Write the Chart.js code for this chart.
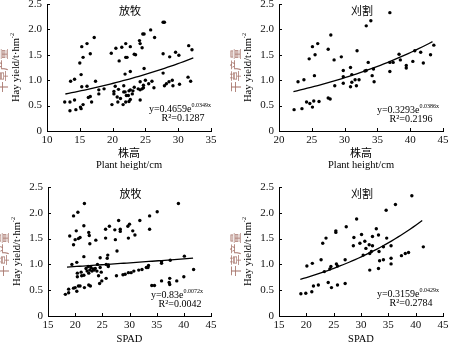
<!DOCTYPE html>
<html>
<head>
<meta charset="utf-8">
<script src="https://cdn.jsdelivr.net/npm/chart.js@4.4.0/dist/chart.umd.min.js"></script>
<style>
  body { margin: 0; background: #fff; }
  #wrap { position: relative; width: 450px; height: 343px; overflow: hidden; }
  .panel { position: absolute; }
  canvas { display: block; }
</style>
</head>
<body>
<div id="wrap">
  <div class="panel" style="left:0;top:0"><canvas id="c1" width="225" height="171"></canvas></div>
  <div class="panel" style="left:225px;top:0"><canvas id="c2" width="225" height="171"></canvas></div>
  <div class="panel" style="left:0;top:171px"><canvas id="c3" width="225" height="172"></canvas></div>
  <div class="panel" style="left:225px;top:171px"><canvas id="c4" width="225" height="172"></canvas></div>
</div>
<script>
// plant height (cm) vs hay yield, grazed plots
const grazeHeight = [
  [12.7,0.57],[13.5,0.57],[13.5,0.40],[13.6,0.98],[14.2,1.02],[14.2,0.61],[14.4,0.42],
  [15.0,1.34],[15.3,1.66],[15.2,1.11],[15.3,0.87],[15.1,0.47],[15.2,0.44],[15.5,0.52],[15.5,1.45],
  [16.1,1.72],[16.1,0.88],[16.3,0.66],[16.6,0.68],[16.6,1.52],[16.8,0.57],[17.2,1.84],[17.4,0.98],
  [17.9,0.81],[17.9,0.73],[18.7,0.83],[19.8,1.53],[19.9,0.52],[20.2,0.73],[20.2,0.78],[20.4,0.88],
  [20.5,1.63],[20.7,0.67],[20.8,0.57],[21.0,1.38],[20.9,0.82],[21.2,0.64],[21.4,1.65],[21.6,0.52],
  [21.7,0.77],[21.7,0.89],[21.9,1.12],[22.0,1.72],[22.0,1.45],[22.2,1.45],[22.1,0.70],[21.9,0.77],
  [22.7,1.66],[23.3,1.51],[24.1,1.78],[24.2,1.72],[24.6,1.91],[24.8,1.91],[24.5,1.64],[25.8,1.99],
  [26.4,1.84],[27.7,2.14],[27.9,2.14],[27.7,1.52],[28.7,1.46],[29.6,1.55],[30.1,1.49],[31.6,1.68],
  [32.1,1.60],[24.8,1.23],[22.7,1.17],[27.7,1.14],[28.2,0.93],[28.6,0.97],[29.1,1.00],[29.2,0.89],
  [30.2,0.92],[31.5,1.06],[31.9,0.98],[27.9,0.89],[26.3,0.85],[26.0,0.98],[25.5,0.93],[25.0,1.00],
  [24.7,0.90],[24.2,0.97],[24.2,0.81],[24.5,0.83],[23.9,0.83],[23.3,0.86],[23.1,0.79],[22.7,0.81],
  [22.5,0.79],[22.4,0.70],[22.7,0.62],[24.2,0.61],[24.7,0.85],[23.5,1.50],[23.0,0.73],[22.5,0.58],
  [22.0,0.57]
];
// plant height (cm) vs hay yield, mown plots
const mowHeight = [
  [22.3,0.42],[23.5,0.44],[22.9,0.97],[23.8,1.01],[24.2,0.57],[24.7,0.54],[25.1,0.47],[25.3,0.59],
  [26.1,0.58],[24.6,1.42],[25.1,1.66],[25.5,1.50],[25.9,1.72],[25.4,1.09],[27.5,0.65],[27.8,0.63],
  [27.5,1.61],[27.9,1.89],[28.4,1.40],[28.5,0.89],[29.5,1.46],[29.8,1.19],[29.8,1.07],[29.8,0.94],
  [30.9,1.25],[30.9,0.87],[31.1,0.96],[31.1,1.11],[31.6,1.01],[31.9,1.58],[31.8,0.89],[32.2,1.01],
  [33.3,2.07],[34.0,2.17],[33.6,1.35],[33.3,1.19],[34.2,1.09],[34.4,1.22],[34.5,0.97],[33.1,1.18],
  [36.9,2.33],[36.9,1.35],[36.9,1.17],[37.4,1.35],[38.3,1.51],[38.5,1.40],[39.4,1.29],[39.4,1.24],
  [40.4,1.37],[40.7,1.58],[41.6,1.55],[42.0,1.34],[43.1,1.50],[43.6,1.69]
];
// SPAD vs hay yield, grazed plots
const grazeSpad = [
  [18.2,0.42],[18.8,0.45],[18.8,0.52],[19.7,0.54],[20.0,0.55],[20.3,0.48],[20.6,0.58],[20.9,0.58],
  [21.7,0.55],[22.5,0.60],[22.8,0.58],[24.5,0.63],[24.9,0.68],[25.7,0.73],[27.6,0.78],[28.8,0.80],
  [29.2,0.81],[29.8,0.84],[30.3,0.84],[30.8,0.87],[31.7,0.89],[32.3,0.90],[33.1,0.94],[33.5,0.98],
  [33.4,0.94],[34.1,0.59],[34.6,0.59],[35.9,0.68],[37.3,0.65],[37.4,0.73],[37.4,0.61],[38.7,0.68],
  [40.0,0.76],[41.8,0.90],[35.9,1.05],[35.9,1.02],[37.5,1.08],[40.1,1.16],
  [19.4,1.00],[20.3,1.04],[21.6,1.15],[20.4,0.83],[20.4,0.76],[21.1,0.85],[21.2,0.78],[21.6,0.79],
  [22.0,0.92],[22.2,0.87],[22.4,0.96],[22.5,0.83],[22.7,0.89],[22.9,0.94],[23.1,0.87],[23.3,0.91],
  [23.5,0.89],[23.7,0.92],[24.0,0.87],[24.1,1.00],[24.6,0.94],[24.6,1.13],[24.3,0.78],[24.8,0.85],
  [25.7,1.00],[26.0,1.18],[26.1,0.99],[26.1,0.96],[25.9,1.12],
  [19.7,1.94],[20.5,2.01],[21.7,2.18],[19.0,1.55],[19.7,1.38],[20.0,1.48],[20.6,1.50],[20.9,1.52],
  [20.2,1.65],[21.6,1.75],[22.5,1.62],[22.6,1.56],[22.7,1.40],[23.8,1.47],[25.6,1.68],[25.6,1.51],
  [26.3,1.74],[27.3,1.67],[27.4,1.48],[27.7,1.26],[28.0,1.85],[28.3,1.68],[28.3,1.64],[29.7,1.74],
  [30.0,1.78],[29.8,1.51],[30.6,1.65],[31.0,1.57],[31.9,1.85],[33.7,1.94],[33.7,1.68],[35.1,2.02],
  [39.0,2.18]
];
// SPAD vs hay yield, mown plots
const mowSpad = [
  [19.0,0.43],[19.9,0.44],[21.0,0.47],[21.3,0.58],[22.2,0.60],[20.1,0.97],[21.1,1.02],[22.7,1.09],
  [23.0,1.41],[23.6,1.51],[23.3,0.86],[24.0,0.65],[24.5,0.96],[24.6,0.55],[24.3,0.91],[25.4,1.65],
  [25.4,1.62],[25.5,1.01],[25.7,0.97],[25.7,0.60],[27.1,1.09],[27.1,0.63],[27.3,1.73],[28.7,1.52],
  [28.6,1.36],[29.2,1.88],[29.8,1.41],[30.1,1.58],[30.4,1.18],[30.7,1.45],[30.9,1.31],[31.5,1.38],
  [31.6,1.21],[31.6,0.89],[31.9,1.25],[32.1,1.54],[32.1,1.36],[32.8,1.69],[33.2,1.57],[33.3,1.25],
  [33.4,1.07],[34.1,1.34],[34.1,1.09],[34.6,2.05],[34.7,1.51],[35.5,1.36],[35.5,1.12],[35.5,1.01],
  [36.3,2.16],[37.4,1.17],[38.1,1.21],[38.7,1.23],[39.3,2.33],[41.4,1.34],[33.2,0.92]
];

// exponential fits y = a·e^(bx): coefficient a, exponent b, R²
const fitA  = ['0.4659', '0.3293', '0.83', '0.3159'];
const fitB  = ['0.0349', '0.0386', '0.0072', '0.0429'];
const fitR2 = ['0.1287', '0.2196', '0.0042', '0.2784'];
// x span covered by each fitted curve
const fitFrom = [12.8, 22.2, 18.5, 18.9];
const fitTo   = [32.3, 43.4, 41.7, 41.2];

const groupNames = ['放牧', '刈割', '放牧', '刈割'];
const yTitleZh = '干草产量';
const yTitleEn = 'Hay yield/t·hm';
const yTitleSup = '-2';
const heightTitle = ['株高', 'Plant height/cm'];
const spadTitle = ['SPAD'];
const yTickValues = [0, 0.5, 1.0, 1.5, 2.0, 2.5];

const SERIF = '"Liberation Serif", "Times New Roman", serif';
const CJK = '"Noto Sans CJK SC", sans-serif';

function drawSup(ctx, main, sup, cx, cy, size) {
  ctx.font = size + 'px ' + SERIF;
  const w1 = ctx.measureText(main).width;
  ctx.font = (size * 0.6) + 'px ' + SERIF;
  const w2 = ctx.measureText(sup).width;
  const x0 = cx - (w1 + w2) / 2;
  ctx.textAlign = 'left';
  ctx.textBaseline = 'middle';
  ctx.font = size + 'px ' + SERIF;
  ctx.fillText(main, x0, cy);
  ctx.font = (size * 0.6) + 'px ' + SERIF;
  ctx.fillText(sup, x0 + w1, cy - size * 0.35);
}

const panelText = {
  id: 'panelText',
  afterDraw(chart, args, o) {
    const ctx = chart.ctx;
    const a = chart.chartArea;
    const sx = chart.scales.x, sy = chart.scales.y;
    ctx.save();
    ctx.strokeStyle = '#000';
    ctx.fillStyle = '#000';
    ctx.lineWidth = 1;
    // short ticks pointing into the plot
    ctx.beginPath();
    sx.ticks.forEach(t => {
      const px = Math.round(sx.getPixelForValue(t.value)) + 0.5;
      ctx.moveTo(px, a.bottom); ctx.lineTo(px, a.bottom - 3);
    });
    sy.ticks.forEach(t => {
      const py = Math.round(sy.getPixelForValue(t.value)) + 0.5;
      ctx.moveTo(a.left, py); ctx.lineTo(a.left + 3, py);
    });
    ctx.stroke();

    // treatment name
    ctx.font = '11px ' + CJK;
    ctx.textAlign = 'center';
    ctx.textBaseline = 'middle';
    ctx.fillText(o.group, (a.left + a.right) / 2 + 1, a.top + 7);

    // y axis title, two lines
    const cy = (a.top + a.bottom) / 2;
    ctx.save();
    ctx.translate(o.zhX, cy + 3);
    ctx.rotate(-Math.PI / 2);
    ctx.fillStyle = '#a8766c';
    ctx.font = '11px ' + CJK;
    ctx.fillText(yTitleZh, 0, 0);
    ctx.restore();
    ctx.save();
    ctx.translate(o.enX, cy);
    ctx.rotate(-Math.PI / 2);
    drawSup(ctx, yTitleEn, yTitleSup, 0, 0, 10.5);
    ctx.restore();

    // x axis title
    ctx.textAlign = 'center';
    ctx.textBaseline = 'middle';
    const mx = (a.left + a.right) / 2;
    if (o.xTitle.length === 2) {
      ctx.font = '11px ' + CJK;
      ctx.fillText(o.xTitle[0], mx, a.bottom + 22);
      ctx.font = '10.5px ' + SERIF;
      ctx.fillText(o.xTitle[1], mx, a.bottom + 34);
    } else {
      ctx.font = '10.5px ' + SERIF;
      ctx.fillText(o.xTitle[0], mx, a.bottom + 23);
    }

    // fitted equation and R²
    drawSup(ctx, 'y=' + o.a + 'e', o.b + 'x', o.eqX, o.eqY, 10);
    ctx.font = '10px ' + SERIF;
    ctx.textAlign = 'center';
    ctx.fillText('R²=' + o.r2, o.eqX + 3, o.eqY + 9);
    ctx.restore();
  }
};

const panels = [
  { id: 'c1', pts: grazeHeight, xMin: 10, xMax: 35, xTitle: heightTitle,
    area: { left: 47, top: 3, right: 211, bottom: 131 }, zhX: 3, enX: 16, eqX: 180, eqY: 109 },
  { id: 'c2', pts: mowHeight, xMin: 20, xMax: 45, xTitle: heightTitle,
    area: { left: 54, top: 3, right: 218, bottom: 131 }, zhX: 11, enX: 23, eqX: 183, eqY: 110 },
  { id: 'c3', pts: grazeSpad, xMin: 15, xMax: 45, xTitle: spadTitle,
    area: { left: 48, top: 16, right: 211, bottom: 145 }, zhX: 4, enX: 17, eqX: 177, eqY: 124 },
  { id: 'c4', pts: mowSpad, xMin: 15, xMax: 45, xTitle: spadTitle,
    area: { left: 54, top: 16, right: 218, bottom: 145 }, zhX: 11, enX: 23, eqX: 183, eqY: 123 }
];

panels.forEach((p, i) => {
  const canvas = document.getElementById(p.id);
  const W = canvas.width, H = canvas.height;
  const a = parseFloat(fitA[i]), b = parseFloat(fitB[i]);
  const curve = [];
  for (let k = 0; k <= 40; k++) {
    const x = fitFrom[i] + (fitTo[i] - fitFrom[i]) * k / 40;
    curve.push({ x: x, y: a * Math.exp(b * x) });
  }

  new Chart(canvas, {
    type: 'scatter',
    data: {
      datasets: [
        {
          data: p.pts.map(([x, y]) => ({ x, y })),
          pointRadius: 1.7,
          pointBackgroundColor: '#000',
          pointBorderWidth: 0,
          showLine: false
        },
        {
          type: 'line',
          data: curve,
          borderColor: '#000',
          borderWidth: 1.3,
          pointRadius: 0,
          fill: false,
          tension: 0
        }
      ]
    },
    options: {
      responsive: false,
      animation: false,
      layout: { padding: { left: 0, top: p.area.top, right: W - p.area.right, bottom: 0 } },
      plugins: {
        legend: { display: false },
        tooltip: { enabled: false },
        panelText: {
          group: groupNames[i], xTitle: p.xTitle, zhX: p.zhX, enX: p.enX,
          a: fitA[i], b: fitB[i], r2: fitR2[i], eqX: p.eqX, eqY: p.eqY
        }
      },
      scales: {
        x: {
          type: 'linear',
          min: p.xMin, max: p.xMax,
          ticks: { stepSize: 5, color: '#111', padding: 3, maxRotation: 0,
                   font: { family: SERIF, size: 11 } },
          grid: { display: false, drawTicks: false },
          border: { display: true, color: '#000', width: 1 },
          afterFit(s) { s.height = H - p.area.bottom; s.paddingLeft = 0; s.paddingRight = 0; }
        },
        y: {
          min: 0, max: 2.5,
          afterBuildTicks(s) { s.ticks = yTickValues.map(v => ({ value: v })); },
          ticks: { color: '#111', padding: 5, font: { family: SERIF, size: 11 },
                   callback: v => (v === 0 ? '0' : v.toFixed(1)) },
          grid: { display: false, drawTicks: false },
          border: { display: true, color: '#000', width: 1 },
          afterFit(s) { s.width = p.area.left; s.paddingTop = 0; s.paddingBottom = 0; }
        }
      }
    },
    plugins: [panelText]
  });
});
</script>
</body>
</html>
